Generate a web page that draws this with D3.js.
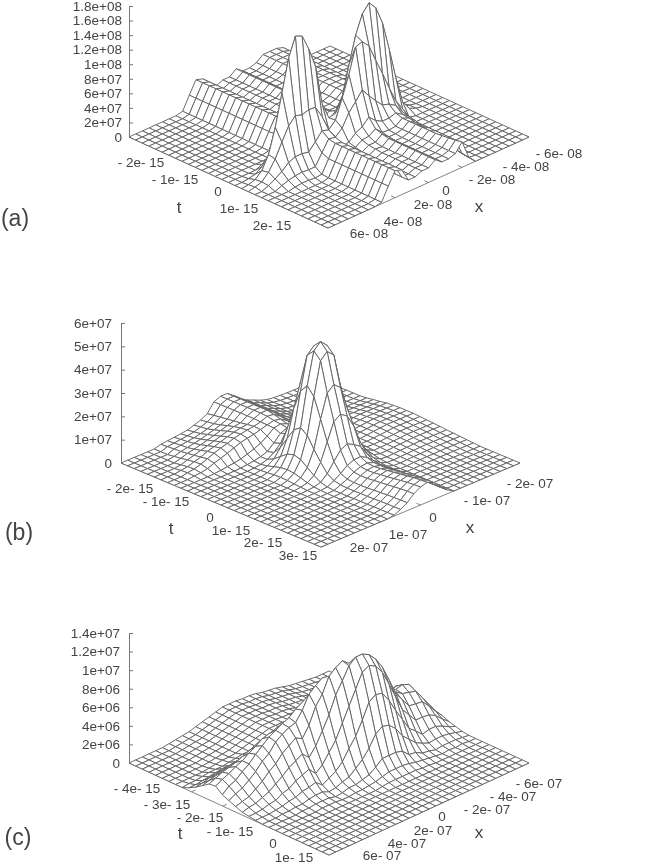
<!DOCTYPE html>
<html>
<head>
<meta charset="utf-8">
<style>
body { margin: 0; background: #fff; }
svg { display: block; filter: blur(0.4px); }
text { font-family: "Liberation Sans", Arial, sans-serif; fill: #444; }
</style>
<script src="https://cdnjs.cloudflare.com/ajax/libs/d3/7.8.5/d3.min.js"></script>
</head>
<body>
<script>
// surface heights: one list per x grid line (x max -> x min), each running along t (t min -> t max)
// missing tail values are zero. (a) in units of 1e6, (b) and (c) in units of 1e5
var zA = [
[],
[0,0,0,0,0,0,0,0,0,0,0,0,0,0,0,0,0,1,2],
[0,0,0,0,0,0,0,0,0,0,0,0,0,0,0,0,1,4,5,4],
[0,0,0,0,0,0,0,0,0,0,0,0,0,0,0,0,3,12,14,9,4],
[0,0,0,0,0,0,0,0,0,0,0,0,0,0,0,0,9,30,28,15,7,2],
[0,0,0,0,0,0,0,0,0,0,0,0,0,0,0,4,20,63,47,23,9,3],
[0,0,0,0,0,0,0,0,0,0,0,0,0,0,0,8,38,106,65,27,10,3],
[0,0,0,0,0,0,0,0,0,0,0,0,0,0,0,12,59,150,75,27,9,2],
[2,2,2,2,2,2,2,2,2,2,2,2,2,2,2,18,77,176,72,25,9,3,2,2,2,2,2,2,2,2,2],
[20,20,20,20,20,20,20,20,20,20,20,20,20,20,22,38,100,172,75,35,24,20,20,20,20,20,20,20,20,20,20],
[37,37,37,37,37,37,37,37,37,37,37,37,37,37,37,53,107,150,74,46,39,37,37,37,37,37,37,37,37,37,37],
[34,34,34,34,34,34,34,34,34,34,34,34,34,34,34,46,84,122,57,43,37,34,34,34,34,34,34,34,34,34,34],
[16,16,16,16,16,16,16,16,16,16,16,16,16,16,16,24,46,66,35,29,20,18,17,16,16,16,16,16,16,16,16],
[16,16,16,16,16,16,16,16,16,16,16,16,16,16,16,20,33,43,44,37,22,19,17,16,16,16,16,16,16,16,16],
[20,20,20,20,20,20,20,20,20,20,20,20,20,20,20,22,31,45,70,54,30,25,22,21,20,20,20,20,20,20,20],
[20,20,20,20,20,20,20,20,20,20,20,20,20,20,20,22,36,61,98,65,35,26,22,20,20,20,20,20,20,20,20],
[27,27,27,27,27,27,27,27,27,27,27,27,27,27,27,32,56,103,132,77,44,32,29,27,27,27,27,27,27,27,27],
[20,20,20,20,20,20,20,20,20,20,20,20,20,20,20,31,72,140,135,65,35,23,21,20,20,20,20,20,20,20,20],
[20,20,20,20,20,20,20,20,20,20,20,20,20,20,20,37,97,165,125,54,30,22,21,20,20,20,20,20,20,20,20],
[23,23,23,23,23,23,23,23,23,23,23,23,23,23,23,46,116,176,101,44,30,23,23,23,23,23,23,23,23,23,23],
[30,30,30,30,30,30,30,30,30,30,30,30,30,30,30,55,123,165,79,41,33,30,30,30,30,30,30,31,32,33,35],
[30,30,30,30,30,30,30,30,30,30,30,30,30,30,30,53,107,140,55,35,27,26,24,22,20,18,16,14,13,11,10],
[30,30,30,30,30,30,30,30,30,30,30,30,30,30,30,47,82,100,33,22,20,18,15,12,10,8,6,4,2,1,0],
[27,27,27,27,27,27,27,27,27,27,27,27,27,26,25,34,49,56,18,11,8,6,4,2,1],
[11,11,11,11,11,11,11,11,11,11,10,9,8,7,6,10,17,19,2],
[2,2,2,2,2,2,2,2,2,2,2,2,1,1,1,2,5,6],
[0,0,0,0,0,0,0,0,0,0,0,0,0,0,0,0,2,2],
[],[],[],[]
];
var zB = [
[],[],[],
[0,0,0,0,0,0,4,6,4],
[0,0,0,0,0,4,8,10,6],
[0,0,0,4,8,13,17,19,12,2],
[8,10,12,13,17,21,25,30,23,4],
[11,13,16,18,23,30,38,42,32,8,1],
[14,17,20,24,30,38,46,52,42,12,2],
[17,20,24,30,38,46,55,60,53,17,5,2,4,6,9,10,9,6,4,2,1],
[21,25,30,38,46,55,64,70,64,26,9,6,11,20,28,31,28,20,11,5,2,1],
[30,34,38,46,55,64,72,76,70,36,15,15,30,52,74,83,74,52,30,13,5,2,2,2,3,3,3,4,4,4,4],
[40,44,48,55,64,72,78,81,75,49,25,33,67,118,166,187,166,118,75,38,20,14,12,12,13,13,14,15,16,16,17],
[55,60,64,68,72,76,81,85,83,67,50,60,135,235,320,355,320,235,150,78,39,27,24,24,25,27,29,31,32,33,34],
[94,94,94,94,94,94,94,92,91,90,79,90,190,335,462,492,462,335,225,115,61,45,41,42,45,48,51,54,57,59,60],
[106,106,106,106,106,106,106,104,98,95,91,100,205,360,490,520,490,360,245,130,73,56,53,54,58,61,65,69,73,75,77],
[106,106,106,106,106,106,106,100,92,84,78,90,190,335,462,492,462,335,225,115,75,60,57,60,64,68,72,76,81,83,85],
[85,85,85,85,85,85,85,80,74,67,58,60,135,235,320,355,320,235,170,95,60,50,49,50,54,57,61,65,68,70,72],
[60,60,60,60,60,60,60,56,51,44,36,35,67,118,166,187,166,118,88,51,34,29,28,30,32,34,36,38,40,41,42],
[42,42,42,42,42,42,42,38,34,28,20,16,30,52,74,83,74,52,38,22,14,10,11,12,13,14,14,15,16,16,17],
[30,30,30,30,30,30,27,24,20,16,10,7,11,20,28,31,28,20,11,5,2,1],
[17,17,17,17,17,17,15,13,10,8,5,3,4,6,9,10,9,6,4,2,1],
[8,8,8,8,8,8,7,6,8,8,9,8,9,9,9,9,8,7,5,4,3,2,2,1],
[4,4,4,4,4,4,3,3,6,7,9,11,12,12,12,11,9,8,7,6,4,3,2,1],
[2,2,2,2,2,2,2,2,6,9,12,14,15,15,15,13,12,10,9,7,6,4,3,1],
[1,1,1,1,1,1,1,1,7,11,14,17,18,18,18,16,14,12,11,9,7,5,3,2,1],
[0,0,0,0,0,0,0,3,8,12,17,19,21,21,21,19,17,15,13,10,8,6,4,2],
[0,0,0,0,0,0,0,3,8,12,17,19,21,21,21,19,17,15,13,10,8,6,4,2],
[0,0,0,0,0,0,0,3,8,12,17,19,21,21,21,19,17,15,13,10,8,6,4,2],
[0,0,0,0,0,0,0,3,8,12,17,19,21,21,21,19,17,15,13,10,8,6,4,2],
[0,0,0,0,0,0,0,3,8,12,17,19,21,21,21,19,17,15,13,10,8,6,4,2]
];
var zC = [
[0,0,0,0,0,0,0,0,0,3,7,12,17,18,12,9,6,3,2,1],
[0,0,0,0,0,0,0,0,1,3,8,14,20,22,18,13,8,5,2,1],
[0,0,0,0,0,0,0,0,1,4,10,16,23,25,21,16,10,6,3,1],
[0,0,0,0,0,0,0,0,2,5,11,18,25,29,27,21,15,9,5,2,1],
[0,0,0,0,0,0,0,0,3,6,12,20,27,32,32,27,20,12,6,3,1],
[0,0,0,0,0,0,0,1,3,7,13,21,30,37,39,35,27,17,10,5,2,1],
[1,1,1,1,1,1,1,2,3,7,13,23,33,41,45,40,32,22,12,6,2,1],
[2,2,2,2,2,2,2,3,4,8,14,24,36,46,51,49,40,28,17,9,4,2,1],
[3,3,3,3,3,3,3,3,5,8,14,25,37,48,55,54,45,32,20,10,5,2,1],
[4,4,4,4,4,4,4,4,6,9,14,24,37,50,59,58,50,36,23,12,5,2,1],
[6,6,6,6,6,6,6,6,6,8,11,19,33,50,62,60,46,29,15,6,2],
[8,8,8,8,8,8,8,8,8,10,13,20,34,52,68,70,57,38,21,10,3,1],
[10,10,10,10,10,10,10,10,10,11,14,19,32,50,72,84,74,51,31,14,6,3,1],
[12,12,12,12,12,12,12,12,12,12,15,20,32,51,74,90,84,65,41,21,8,3,1],
[14,14,14,14,14,14,14,14,14,14,16,20,29,46,72,95,100,83,56,32,14,5,2],
[14,14,14,14,14,14,14,14,14,14,16,19,27,44,69,92,106,95,71,42,20,7,3,1],
[14,14,14,14,14,14,14,14,14,14,15,17,22,36,60,88,110,108,86,56,29,12,5,2],
[13,13,13,13,13,13,13,13,13,13,13,15,18,28,50,78,104,114,101,72,41,18,7,2],
[13,13,13,13,13,13,13,13,13,13,13,14,17,25,42,70,98,114,105,77,46,18,7,2],
[12,12,12,12,12,12,12,12,12,12,12,13,16,23,40,67,95,110,101,75,44,18,7,2],
[10,10,10,10,10,10,10,10,10,10,10,12,15,23,42,67,92,102,91,64,37,16,6,2],
[9,9,9,9,9,9,9,9,9,9,9,10,13,21,41,64,85,90,75,50,26,9,4,1],
[8,8,8,8,8,8,8,8,8,8,8,10,15,25,43,62,75,73,58,37,19,8,3,1],
[6,6,6,6,6,6,6,6,6,6,6,8,13,24,36,50,60,55,41,24,12,4,2],
[4,4,4,4,4,4,4,4,4,4,5,7,12,22,36,47,50,45,32,18,8,3,1],
[3,3,3,3,3,3,3,3,3,3,4,8,14,26,37,46,45,35,23,11,5,1],
[2,2,2,2,2,2,2,2,2,4,7,13,23,34,43,48,43,34,23,13,6,2,1],
[1,1,1,1,1,1,1,1,1,3,7,13,22,33,41,45,41,33,22,13,6,2],
[0,0,0,0,0,0,0,0,0,2,5,10,18,26,32,33,31,25,18,10,5,2,1],
[0,0,0,0,0,0,0,0,0,1,3,7,12,17,20,22,20,16,11,6,3,1],
[0,0,0,0,0,0,0,0,0,0,2,4,6,8,10,11,10,8,5,3,1]
];

// tick values and labels
var zTicksA = [0,20,40,60,80,100,120,140,160,180];
var zLabelsA = ["0","2e+07","4e+07","6e+07","8e+07","1e+08","1.2e+08","1.4e+08","1.6e+08","1.8e+08"];
var tTicksA = [-2,-1,0,1,2];
var tLabelsA = ["- 2e- 15","- 1e- 15","0","1e- 15","2e- 15"];
var xTicksA = [-6,-4,-2,0,2,4,6];
var xLabelsA = ["- 6e- 08","- 4e- 08","- 2e- 08","0","2e- 08","4e- 08","6e- 08"];

var zTicksB = [0,100,200,300,400,500,600];
var zLabelsB = ["0","1e+07","2e+07","3e+07","4e+07","5e+07","6e+07"];
var tTicksB = [-2,-1,0,1,2,3];
var tLabelsB = ["- 2e- 15","- 1e- 15","0","1e- 15","2e- 15","3e- 15"];
var xTicksB = [-2,-1,0,1,2];
var xLabelsB = ["- 2e- 07","- 1e- 07","0","1e- 07","2e- 07"];

var zTicksC = [0,20,40,60,80,100,120,140];
var zLabelsC = ["0","2e+06","4e+06","6e+06","8e+06","1e+07","1.2e+07","1.4e+07"];
var tTicksC = [-4,-3,-2,-1,0,1];
var tLabelsC = ["- 4e- 15","- 3e- 15","- 2e- 15","- 1e- 15","0","1e- 15"];
var xTicksC = [-6,-4,-2,0,2,4,6];
var xLabelsC = ["- 6e- 07","- 4e- 07","- 2e- 07","0","2e- 07","4e- 07","6e- 07"];

// layout for each panel (corners of the base, text centres)
var panels = [
  {name: "(a)", nameAt: [15,218], z: zA, zTicks: zTicksA, zLabels: zLabelsA, zTop: 180, zH: 131, pad: 7,
   tTicks: tTicksA, tLabels: tLabelsA, xTicks: xTicksA, xLabels: xLabelsA,
   tRange: [-3,3], xRange: [6,-6], L: [129,137], F: [328,228], R: [529,137],
   tAt: [[141,162],[175,179],[218,191],[239,208],[272,225]],
   xAt: [[559,153],[526,166],[492,179],[446,190],[433,204],[403,221],[369,233]],
   tName: [179,207], xName: [479,207]},
  {name: "(b)", nameAt: [19,532], z: zB, zTicks: zTicksB, zLabels: zLabelsB, zTop: 600, zH: 140, pad: 9,
   tTicks: tTicksB, tLabels: tLabelsB, xTicks: xTicksB, xLabels: xLabelsB,
   tRange: [-3,3], xRange: [2.5,-2.5], L: [121,463], F: [321,547], R: [520,463],
   tAt: [[130,488],[166,501],[210,517],[231,530],[263,542],[298,555]],
   xAt: [[530,483],[487,500],[433,517],[408,534],[369,547]],
   tName: [171,528], xName: [470,528]},
  {name: "(c)", nameAt: [18,837], z: zC, zTicks: zTicksC, zLabels: zLabelsC, zTop: 140, zH: 130, pad: 9,
   tTicks: tTicksC, tLabels: tLabelsC, xTicks: xTicksC, xLabels: xLabelsC,
   tRange: [-5,1.4], xRange: [7.7,-7.7], L: [129,763], F: [329,855], R: [529,763],
   tAt: [[137,788],[167,804],[200,817],[230,831],[273,843],[294,857]],
   xAt: [[539,783],[513,796],[487,809],[442,816],[433,830],[407,843],[382,855]],
   tName: [180,833], xName: [479,833]}
];

var lineColor = "#646464";
var svg = d3.select("body").append("svg").attr("width", 654).attr("height", 865);

panels.forEach(function (p) {
  var g = svg.append("g");
  var n = p.z.length - 1;

  var tPx = d3.scaleLinear().domain(p.tRange).range([0, p.F[0] - p.L[0]]);
  var tPy = d3.scaleLinear().domain(p.tRange).range([0, p.F[1] - p.L[1]]);
  var xPx = d3.scaleLinear().domain(p.xRange).range([0, p.R[0] - p.F[0]]);
  var xPy = d3.scaleLinear().domain(p.xRange).range([0, p.R[1] - p.F[1]]);
  var zS = d3.scaleLinear().domain([0, p.zTop]).range([p.L[1], p.L[1] - p.zH]);
  var tGrid = d3.scaleLinear().domain([0, n]).range(p.tRange);
  var xGrid = d3.scaleLinear().domain([0, n]).range(p.xRange);

  function project(t, x, z) {
    return [p.L[0] + tPx(t) + xPx(x), zS(z) + tPy(t) + xPy(x)];
  }
  function node(i, j) {
    return project(tGrid(i), xGrid(j), p.z[j][i] || 0);
  }

  // base edges
  var edge = d3.line();
  g.append("path")
    .attr("d", edge([project(p.tRange[0], p.xRange[0], 0), project(p.tRange[1], p.xRange[0], 0), project(p.tRange[1], p.xRange[1], 0)]))
    .attr("fill", "none").attr("stroke", lineColor).attr("stroke-width", 0.8);

  // z axis
  var zAxis = d3.axisLeft(zS)
    .tickValues(p.zTicks)
    .tickFormat(function (d, i) { return p.zLabels[i]; })
    .tickSize(-4)
    .tickSizeOuter(0)
    .tickPadding(p.pad);
  var ax = g.append("g").attr("transform", "translate(" + p.L[0] + ",0)").call(zAxis);
  ax.selectAll("path,line").attr("stroke", "#777");
  ax.selectAll("text").attr("font-size", 13.5).attr("font-family", null).attr("fill", "#444");

  // ticks on the base
  g.selectAll(".tt").data(p.tTicks).enter().append("path")
    .attr("d", function (d) {
      return edge([project(d, p.xRange[0], 0), project(d, p.xRange[0] + (p.xRange[1] - p.xRange[0]) * 0.02, 0)]);
    }).attr("stroke", lineColor).attr("stroke-width", 0.8);
  g.selectAll(".xt").data(p.xTicks).enter().append("path")
    .attr("d", function (d) {
      return edge([project(p.tRange[1], d, 0), project(p.tRange[1] - (p.tRange[1] - p.tRange[0]) * 0.02, d, 0)]);
    }).attr("stroke", lineColor).attr("stroke-width", 0.8);

  // surface cells, far corner first, each one painted white so it hides what is behind
  var cells = [];
  for (var i = 0; i < n; i++) {
    for (var j = n - 1; j >= 0; j--) {
      cells.push([node(i, j), node(i + 1, j), node(i + 1, j + 1), node(i, j + 1)]);
    }
  }
  var cellPath = d3.line().curve(d3.curveLinearClosed);
  g.append("g").selectAll("path").data(cells).enter().append("path")
    .attr("d", cellPath)
    .attr("fill", "#fff")
    .attr("stroke", lineColor)
    .attr("stroke-width", 0.95)
    .attr("stroke-linejoin", "round");

  // tick labels
  g.selectAll(".tl").data(p.tLabels).enter().append("text")
    .attr("x", function (d, i) { return p.tAt[i][0]; })
    .attr("y", function (d, i) { return p.tAt[i][1]; })
    .attr("dy", "0.36em").attr("text-anchor", "middle").attr("font-size", 13.5)
    .text(function (d) { return d; });
  g.selectAll(".xl").data(p.xLabels).enter().append("text")
    .attr("x", function (d, i) { return p.xAt[i][0]; })
    .attr("y", function (d, i) { return p.xAt[i][1]; })
    .attr("dy", "0.36em").attr("text-anchor", "middle").attr("font-size", 13.5)
    .text(function (d) { return d; });

  // axis names and panel letter
  g.append("text").attr("x", p.tName[0]).attr("y", p.tName[1]).attr("dy", "0.36em")
    .attr("text-anchor", "middle").attr("font-size", 17).text("t");
  g.append("text").attr("x", p.xName[0]).attr("y", p.xName[1]).attr("dy", "0.3em")
    .attr("text-anchor", "middle").attr("font-size", 17).text("x");
  g.append("text").attr("x", p.nameAt[0]).attr("y", p.nameAt[1]).attr("dy", "0.33em")
    .attr("text-anchor", "middle").attr("font-size", 23).text(p.name);
});
</script>
</body>
</html>
